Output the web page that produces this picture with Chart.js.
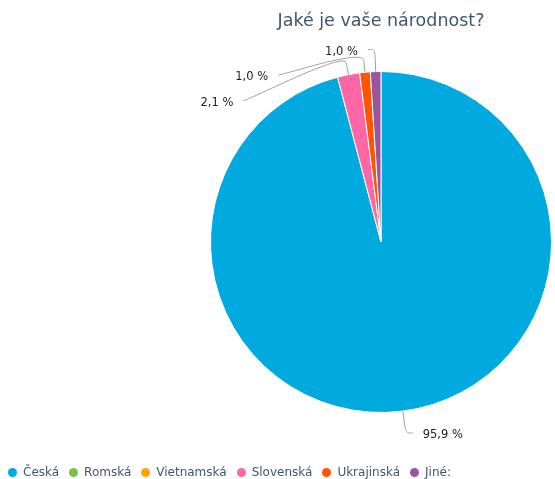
<!DOCTYPE html>
<html lang="cs">
<head>
  <meta charset="UTF-8">
  <title>Jaké je vaše národnost?</title>
  <script src="https://cdn.jsdelivr.net/npm/chart.js"></script>
  <style>
    body {
      margin: 0;
      background: #fff;
    }

    .wrap {
      position: relative;
      width: 555px;
      height: 479px;
      overflow: hidden;
    }

    #legend {
      position: absolute;
      left: 8px;
      top: 465px;
      display: flex;
      gap: 10px;
      font-family: "DejaVu Sans", sans-serif;
      font-size: 12px;
      color: #3e576f;
      line-height: 15px;
      white-space: nowrap;
    }

    #legend .item {
      display: flex;
      align-items: center;
    }

    #legend .dot {
      width: 9px;
      height: 9px;
      border-radius: 50%;
      margin-right: 6px;
    }
  </style>
</head>
<body>
  <div class="wrap">
    <canvas id="pieChart" width="555" height="479"></canvas>
    <div id="legend"></div>
  </div>

  <script>
    const titleText = 'Jaké je vaše národnost?';
    const categories = ['Česká', 'Romská', 'Vietnamská', 'Slovenská', 'Ukrajinská', 'Jiné:'];
    const shares = [95.9, 0, 0, 2.1, 1.0, 1.0];
    const colors = ['#00a9de', '#7cc242', '#ffa300', '#ff66a5', '#ff5500', '#9b55a0'];

    // percentage labels with soft connectors, placed roughly like the original
    const pieLabels = {
      id: 'pieLabels',
      afterDatasetsDraw(chart) {
        const ctx = chart.ctx;
        const meta = chart.getDatasetMeta(0);
        const items = [];
        meta.data.forEach((arc, i) => {
          const v = shares[i];
          if (!v) return;
          const p = arc.getProps(['x', 'y', 'startAngle', 'endAngle', 'outerRadius']);
          const mid = (p.startAngle + p.endAngle) / 2;
          const r = p.outerRadius;
          const R = r + 22;
          const dx = Math.cos(mid), dy = Math.sin(mid);
          items.push({
            v, cx: p.x, cy: p.y, R,
            left: dx < 0,
            ex: p.x + r * dx, ey: p.y + r * dy,
            bx: p.x + (r + 12) * dx, by: p.y + (r + 12) * dy,
            ly: p.y + R * dy
          });
        });

        [true, false].forEach(side => {
          const group = items.filter(it => it.left === side).sort((a, b) => a.ly - b.ly);
          for (let k = 1; k < group.length; k++) {
            if (group[k].ly < group[k - 1].ly + 25.5) group[k].ly = group[k - 1].ly + 25.5;
          }
        });

        ctx.save();
        ctx.font = '11.5px "DejaVu Sans", sans-serif';
        ctx.textBaseline = 'middle';
        items.forEach(it => {
          const off = it.ly - it.cy;
          const w = Math.sqrt(Math.max(it.R * it.R - off * off, 0)) + 7;
          const lx = it.left ? it.cx - w : it.cx + w;
          const ly = it.ly;

          ctx.strokeStyle = '#a0a0a0';
          ctx.lineWidth = 1;
          ctx.beginPath();
          ctx.moveTo(lx, ly);
          ctx.bezierCurveTo(lx + (it.left ? 5 : -5), ly,
            2 * it.bx - it.ex, 2 * it.by - it.ey, it.bx, it.by);
          ctx.lineTo(it.ex, it.ey);
          ctx.stroke();

          ctx.fillStyle = '#222';
          ctx.textAlign = it.left ? 'right' : 'left';
          const txt = it.v.toFixed(1).replace('.', ',') + ' %';
          ctx.fillText(txt, it.left ? lx - 10 : lx + 10, ly + 2);
        });
        ctx.restore();
      }
    };

    const chart = new Chart(document.getElementById('pieChart'), {
      type: 'pie',
      data: {
        labels: categories,
        datasets: [{
          data: shares,
          backgroundColor: colors,
          borderColor: '#ffffff',
          borderWidth: 1
        }]
      },
      options: {
        responsive: false,
        animation: false,
        layout: {
          padding: { left: 210, right: 3, top: 0, bottom: 66 }
        },
        plugins: {
          legend: { display: false },
          tooltip: { enabled: false },
          title: {
            display: true,
            text: titleText,
            color: '#3e576f',
            font: { family: '"DejaVu Sans", sans-serif', size: 17.5, weight: 'normal' },
            padding: { top: 11, bottom: 39 }
          }
        }
      },
      plugins: [pieLabels]
    });

    // legend as html
    const legend = document.getElementById('legend');
    categories.forEach((name, i) => {
      const item = document.createElement('span');
      item.className = 'item';
      const dot = document.createElement('span');
      dot.className = 'dot';
      dot.style.background = colors[i];
      item.appendChild(dot);
      item.appendChild(document.createTextNode(name));
      legend.appendChild(item);
    });
  </script>
</body>
</html>
